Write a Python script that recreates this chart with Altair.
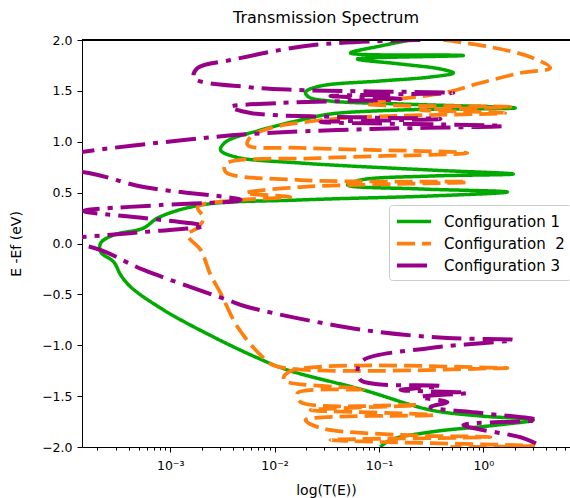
import altair as alt
import pandas as pd

configs = ["Configuration 1", "Configuration\u00a0 2", "Configuration 3"]
colors = ["#00aa00", "#ff7f0e", "#990088"]

# Configuration 1 (solid green)
e1 = [2.0, 1.941, 1.872, 1.848, 1.813, 1.764, 1.715, 1.676, 1.636, 1.597, 1.548, 1.489, 1.440, 1.400,
      1.371, 1.332, 1.312, 1.273, 1.224, 1.115, 0.998, 0.919, 0.850, 0.791, 0.722, 0.683, 0.663, 0.624,
      0.575, 0.536, 0.506, 0.467, 0.428, 0.378, 0.251, 0.152, 0.084, 0.005, -0.084, -0.182, -0.310,
      -0.428, -0.654, -0.919, -1.125, -1.243, -1.440, -1.636, -1.695, -1.735, -1.784, -1.853, -1.931, -2.0]
t1 = [0.20, 0.103, 0.0533, 0.644, 0.0622, 0.161, 0.388, 0.516, 0.311, 0.103, 0.0276, 0.0198, 0.0212, 0.0343,
      0.161, 2.02, 0.161, 0.0343, 0.0198, 0.00735, 0.0034, 0.00304, 0.00424, 0.0177, 0.311, 1.94, 0.311, 0.0665,
      0.050, 0.249, 1.70, 0.311, 0.0177, 0.00196, 0.000759, 0.000557, 0.000288, 0.000216, 0.000216, 0.000288,
      0.000336, 0.000419, 0.000867, 0.0026, 0.00688, 0.0133, 0.0711, 0.311, 0.936, 3.01, 1.36, 0.311, 0.129, 0.103]

# Configuration 2 (dashed orange)
e2 = [2.0, 1.931, 1.833, 1.725, 1.676, 1.577, 1.479, 1.410, 1.371, 1.342, 1.312, 1.283, 1.243, 1.204, 1.135,
      1.047, 0.968, 0.939, 0.889, 0.840, 0.781, 0.703, 0.624, 0.604, 0.555, 0.496, 0.457, 0.428, 0.359, 0.251,
      0.162, 0.084, -0.064, -0.310, -0.487, -0.821, -1.096, -1.204, -1.224, -1.253, -1.342, -1.430, -1.469,
      -1.558, -1.587, -1.636, -1.685, -1.735, -1.813, -1.882, -1.902, -1.931, -1.990, -2.0]
t2 = [0.414, 1.17, 2.82, 4.38, 2.26, 0.936, 0.414, 0.129, 0.0776, 1.81, 0.249, 1.62, 0.0665, 0.0236, 0.00916,
      0.00589, 0.00552, 0.0177, 0.703, 0.0276, 0.0034, 0.0034, 0.0177, 0.703, 0.0177, 0.00528, 0.0142, 0.00473,
      0.00183, 0.00209, 0.00187, 0.00147, 0.00196, 0.00244, 0.00304, 0.00442, 0.00735, 0.0102, 1.70, 0.0142,
      0.0122, 0.0711, 0.0166, 0.0177, 0.233, 0.0221, 0.332, 0.0198, 0.0276, 0.161, 1.17, 0.0343, 3.01, 0.483]

# Configuration 3 (dash-dot purple)
e3 = [2.0, 1.951, 1.803, 1.725, 1.627, 1.538, 1.509, 1.479, 1.450, 1.420, 1.381, 1.342, 1.283, 1.243, 1.224,
      1.194, 1.155, 1.125, 1.076, 1.017, 0.899, 0.78, 0.693, 0.555, 0.428, 0.378, 0.319, 0.251, 0.172, 0.113,
      0.064, 0.02, -0.034, -0.260, -0.555, -0.624, -0.850, -0.929, -0.948, -1.027, -1.145, -1.243, -1.342,
      -1.381, -1.401, -1.440, -1.469, -1.509, -1.558, -1.607, -1.666, -1.735, -1.784, -1.912, -2.0]
t3 = [0.249, 0.0236, 0.00379, 0.00183, 0.00168, 0.00552, 0.0166, 0.516, 0.0343, 0.161, 0.0114, 0.00379,
      0.00589, 0.0428, 0.388, 0.0276, 1.55, 0.083, 0.00589, 0.00135, 0.000142, 0.00003, 0.000166, 0.000557,
      0.00473, 0.000811, 0.000149, 0.000557, 0.00209, 0.000557, 0.000142, 0.00003, 0.000173, 0.000557,
      0.00355, 0.00552, 0.0711, 0.453, 1.94, 0.311, 0.0711, 0.0622, 0.0665, 0.0926, 0.388, 0.161, 0.703,
      0.249, 0.453, 0.311, 0.936, 3.29, 0.644, 2.41, 3.75]

x_major = [0.001, 0.01, 0.1, 1.0]
x_minor = [m * d for d in [0.0001, 0.001, 0.01, 0.1, 1.0] for m in range(2, 10)]
x_ticks = sorted(set([v for v in x_minor if 1.43e-4 <= v <= 6.7] + x_major))
y_ticks = [-2.0, -1.5, -1.0, -0.5, 0.0, 0.5, 1.0, 1.5, 2.0]

rows = []
for name, es, ts in zip(configs, [e1, e2, e3], [t1, t2, t3]):
    for i, (e, t) in enumerate(zip(es, ts)):
        rows.append({"config": name, "E": e, "T": t, "idx": i})
df = pd.DataFrame(rows)

W, H = 488, 407
FONT = "DejaVu Sans"

label_expr = ("datum.value == 0.001 ? '10\u207b\u00b3' : datum.value == 0.01 ? '10\u207b\u00b2' : "
              "datum.value == 0.1 ? '10\u207b\u00b9' : datum.value == 1 ? '10\u2070' : ''")

leg = alt.Legend(orient="none", legendX=307, legendY=165, title=None, labelFont=FONT, labelFontSize=15,
                 labelColor="black", symbolType="M-1,0H3", symbolSize=289, symbolStrokeWidth=4,
                 padding=6, rowPadding=3, labelOffset=28, fillColor="white", strokeColor="#cccccc",
                 cornerRadius=3)

lines = alt.Chart(df).mark_line(clip=True, interpolate="catmull-rom").encode(
    x=alt.X("T:Q", scale=alt.Scale(type="log", domain=[10 ** -3.845, 10 ** 0.83], nice=False),
            axis=alt.Axis(values=x_ticks, labelExpr=label_expr, grid=False, title="log(T(E))",
                          tickSize={"condition": {"test": "indexof([0.001,0.01,0.1,1], datum.value) >= 0", "value": 5},
                                    "value": 3},
                          tickColor="black", domainColor="black", labelFont=FONT, labelFontSize=12.5,
                          labelColor="black", labelPadding=7, labelOverlap=False, labelFlush=False,
                          titleFont=FONT, titleFontSize=14, titleFontWeight="normal", titleColor="black",
                          titlePadding=12)),
    y=alt.Y("E:Q", scale=alt.Scale(domain=[-2, 2], nice=False),
            axis=alt.Axis(values=y_ticks, format=".1f", grid=False, title="E -Ef (eV)", tickSize=5,
                          tickColor="black", domainColor="black", labelFont=FONT, labelFontSize=12.5,
                          labelColor="black", labelPadding=5, labelFlush=False,
                          titleFont=FONT, titleFontSize=14, titleFontWeight="normal", titleColor="black",
                          titlePadding=18)),
    color=alt.Color("config:N", scale=alt.Scale(domain=configs, range=colors), legend=leg),
    strokeDash=alt.StrokeDash("config:N", scale=alt.Scale(domain=configs, range=[[1, 0], [18, 7], [30, 8, 5, 8]]),
                              legend=leg),
    strokeWidth=alt.StrokeWidth("config:N", scale=alt.Scale(domain=configs, range=[3.5, 4, 4.5]), legend=None),
    order=alt.Order("idx:Q"),
)

top_spine = alt.Chart(df).mark_rule(color="black", strokeWidth=1).encode(
    x=alt.value(0), x2=alt.value(W), y=alt.value(0))

chart = alt.layer(lines, top_spine).properties(
    width=W, height=H,
    title=alt.Title("Transmission Spectrum", font=FONT, fontSize=16, fontWeight="normal", color="black", offset=8),
    autosize=alt.AutoSizeParams(type="none"),
    padding={"left": 82, "top": 40, "right": 0, "bottom": 51},
).configure_view(stroke=None).configure(background="white")

chart.save("out.html", embed_options={"renderer": "svg", "actions": False})
